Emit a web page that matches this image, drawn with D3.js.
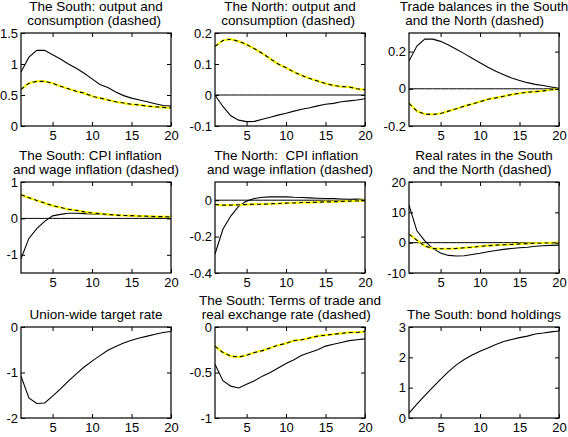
<!DOCTYPE html>
<html>
<head>
<meta charset="utf-8">
<script src="https://cdn.jsdelivr.net/npm/d3@7"></script>
<style>
  html, body { margin: 0; padding: 0; background: #fff; }
  svg { display: block; }
  text { font-family: "Liberation Sans", Arial, Helvetica, sans-serif; font-size: 13px; fill: #000; }
  .title { white-space: pre; font-size: 13.5px; }
</style>
</head>
<body>
<svg id="chart" width="568" height="437"></svg>
<script>
// ---------------- data ----------------
const periods = [1,2,3,4,5,6,7,8,9,10,11,12,13,14,15,16,17,18,19,20];
const xTicks = [5,10,15,20];

const southOutput      = [0.87,1.11,1.22,1.22,1.15,1.08,1.00,0.93,0.85,0.76,0.67,0.62,0.55,0.49,0.45,0.42,0.39,0.36,0.33,0.32];
const southConsumption = [0.59,0.69,0.72,0.72,0.69,0.64,0.60,0.56,0.53,0.48,0.45,0.42,0.39,0.37,0.35,0.34,0.32,0.31,0.30,0.29];
const northOutput      = [0,-0.037,-0.067,-0.081,-0.086,-0.085,-0.078,-0.072,-0.065,-0.059,-0.052,-0.046,-0.041,-0.035,-0.030,-0.027,-0.022,-0.019,-0.016,-0.012];
const northConsumption = [0.157,0.176,0.180,0.173,0.163,0.149,0.134,0.117,0.100,0.088,0.074,0.063,0.053,0.045,0.037,0.031,0.027,0.026,0.020,0.017];
const southTrade       = [0.149,0.23,0.267,0.267,0.255,0.235,0.213,0.189,0.164,0.14,0.116,0.095,0.076,0.058,0.045,0.033,0.024,0.018,0.010,0.002];
const northTrade       = [-0.078,-0.12,-0.136,-0.138,-0.133,-0.12,-0.107,-0.093,-0.082,-0.069,-0.056,-0.049,-0.04,-0.031,-0.024,-0.018,-0.015,-0.011,-0.005,-0.002];
const southCPI         = [-1.11,-0.55,-0.28,-0.08,0.07,0.11,0.14,0.14,0.13,0.12,0.11,0.10,0.09,0.08,0.07,0.06,0.05,0.04,0.04,0.03];
const southWage        = [0.65,0.57,0.49,0.42,0.35,0.30,0.25,0.22,0.18,0.15,0.13,0.11,0.09,0.08,0.075,0.065,0.06,0.05,0.05,0.04];
const northCPI         = [-0.296,-0.16,-0.087,-0.033,-0.005,0.009,0.016,0.018,0.018,0.018,0.016,0.015,0.013,0.011,0.009,0.009,0.007,0.005,0.007,0.004];
const northWage        = [-0.024,-0.027,-0.027,-0.025,-0.024,-0.022,-0.022,-0.020,-0.018,-0.016,-0.015,-0.013,-0.013,-0.011,-0.009,-0.009,-0.007,-0.005,-0.004,-0.002];
const southRealRate    = [12.4,3.9,0.6,-1.9,-3.4,-4.2,-4.4,-4.3,-3.9,-3.5,-3.0,-2.6,-2.2,-1.9,-1.7,-1.5,-1.2,-1.0,-0.9,-0.8];
const northRealRate    = [2.8,0.8,-1.1,-1.9,-2.0,-2.0,-1.9,-1.7,-1.5,-1.2,-1.0,-0.8,-0.7,-0.6,-0.4,-0.3,-0.2,-0.1,-0.1,0];
const targetRate       = [-1.08,-1.56,-1.68,-1.67,-1.52,-1.36,-1.19,-1.03,-0.88,-0.75,-0.63,-0.51,-0.43,-0.35,-0.29,-0.24,-0.20,-0.16,-0.12,-0.10];
const termsOfTrade     = [-0.41,-0.59,-0.65,-0.67,-0.63,-0.59,-0.54,-0.50,-0.45,-0.40,-0.36,-0.31,-0.28,-0.25,-0.21,-0.19,-0.17,-0.15,-0.14,-0.13];
const realExchangeRate = [-0.21,-0.28,-0.32,-0.33,-0.31,-0.28,-0.26,-0.23,-0.20,-0.18,-0.15,-0.14,-0.12,-0.10,-0.09,-0.08,-0.07,-0.06,-0.06,-0.05];
const bondHoldings     = [0.16,0.46,0.74,1.01,1.27,1.53,1.75,1.93,2.08,2.20,2.31,2.42,2.52,2.59,2.65,2.70,2.77,2.80,2.84,2.87];

const titles = [
  ["The South: output and", "consumption (dashed) "],
  ["The North: output and", "consumption (dashed) "],
  ["Trade balances in the South", "and the North (dashed)     "],
  ["The South: CPI inflation   ", "and wage inflation (dashed)"],
  ["The North:  CPI inflation  ", "and wage inflation (dashed)"],
  ["Real rates in the South", "and the North (dashed) "],
  ["Union-wide target rate"],
  ["The South: Terms of trade and", "real exchange rate (dashed)  "],
  ["The South: bond holdings"]
];

const yDomains = [[0,1.5],[-0.1,0.2],[-0.2,0.3],[-1.5,1],[-0.4,0.1],[-10,20],[-2,0],[-1,0],[0,3]];
const yTicks = [[0,0.5,1,1.5],[-0.1,0,0.1,0.2],[-0.2,0,0.2],[-1,0,1],[-0.4,-0.2,0],[-10,0,10,20],[-2,-1,0],[-1,-0.5,0],[0,1,2,3]];
const solidSeries  = [southOutput, northOutput, southTrade, southCPI, northCPI, southRealRate, targetRate, termsOfTrade, bondHoldings];
const dashedSeries = [southConsumption, northConsumption, northTrade, southWage, northWage, northRealRate, null, realExchangeRate, null];
const zeroLine = [false, true, true, true, true, true, false, false, false];

// ---------------- layout ----------------
const colLeft = [21, 215, 409];
const rowTop = [33, 182, 327];
const rowH = [93, 91, 91];
const W = 150;

const svg = d3.select("#chart");
const fmt = v => String(v).replace("\u2212", "-");

for (let i = 0; i < 9; i++) {
  const c = i % 3, r = Math.floor(i / 3);
  const L = colLeft[c], T = rowTop[r], H = rowH[r];
  const g = svg.append("g").attr("transform", `translate(${L},${T})`);
  const x = d3.scaleLinear().domain([1, 20]).range([0, W]);
  const y = d3.scaleLinear().domain(yDomains[i]).range([H, 0]);

  // title
  const t = titles[i];
  t.forEach((line, k) => {
    g.append("text").attr("class", "title")
      .attr("x", W / 2)
      .attr("y", -8 - (t.length - 1 - k) * 14)
      .attr("text-anchor", "middle")
      .text(line);
  });

  const clip = "clip" + i;
  g.append("clipPath").attr("id", clip).append("rect").attr("width", W).attr("height", H);
  const plot = g.append("g").attr("clip-path", `url(#${clip})`);

  const line = d3.line().x((d, k) => x(periods[k])).y(d => y(d));

  if (zeroLine[i]) {
    plot.append("path").datum(periods.map(() => 0))
      .attr("d", line).attr("fill", "none").attr("stroke", "#000").attr("stroke-width", 1);
  }
  plot.append("path").datum(solidSeries[i])
    .attr("d", line).attr("fill", "none").attr("stroke", "#000").attr("stroke-width", 1.1);
  if (dashedSeries[i]) {
    plot.append("path").datum(dashedSeries[i])
      .attr("d", line).attr("fill", "none").attr("stroke", "#ffff00").attr("stroke-width", 2.2);
    plot.append("path").datum(dashedSeries[i])
      .attr("d", line).attr("fill", "none").attr("stroke", "#000").attr("stroke-width", 1.1)
      .attr("stroke-dasharray", "4,3");
  }

  // axes (MATLAB style: ticks inside, box)
  const axB = g.append("g").attr("transform", `translate(0,${H})`)
    .call(d3.axisBottom(x).tickValues(xTicks).tickSizeInner(-4).tickSizeOuter(0).tickPadding(5).tickFormat(fmt));
  const axT = g.append("g")
    .call(d3.axisTop(x).tickValues(xTicks).tickSizeInner(-4).tickSizeOuter(0).tickFormat(""));
  const axL = g.append("g")
    .call(d3.axisLeft(y).tickValues(yTicks[i]).tickSizeInner(-4).tickSizeOuter(0).tickPadding(3).tickFormat(fmt));
  const axR = g.append("g").attr("transform", `translate(${W},0)`)
    .call(d3.axisRight(y).tickValues(yTicks[i]).tickSizeInner(-4).tickSizeOuter(0).tickFormat(""));
  [axB, axT, axL, axR].forEach(a => {
    a.attr("font-size", null).attr("font-family", null);
    a.selectAll(".domain").remove();
    a.selectAll(".tick line").attr("stroke", "#000");
    a.selectAll(".tick text").attr("fill", "#000");
  });

  g.append("rect").attr("x", 0).attr("y", 0).attr("width", W).attr("height", H)
    .attr("fill", "none").attr("stroke", "#000").attr("stroke-width", 1.2);
}
</script>
</body>
</html>
